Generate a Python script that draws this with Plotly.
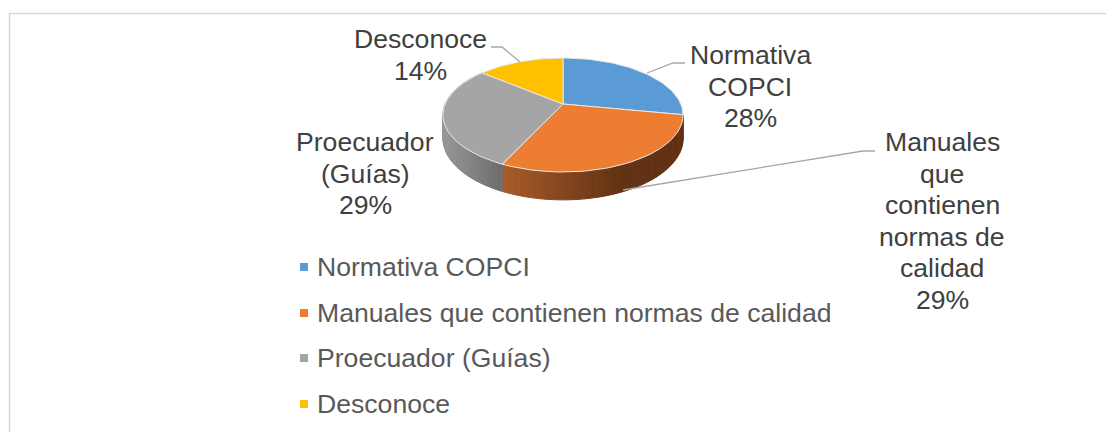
import math
import plotly.graph_objects as go

categories = ["Normativa COPCI", "Manuales que contienen normas de calidad", "Proecuador (Guías)", "Desconoce"]
values = [28, 29, 29, 14]
colors = ["#5B9BD5", "#ED7D31", "#A5A5A5", "#FFC000"]
label_lines = [["Normativa", "COPCI"], ["Manuales", "que", "contienen", "normas de", "calidad"], ["Proecuador", "(Guías)"], ["Desconoce"]]
label_x = [750, 942, 365, 420]
label_y = [55, 142, 142, 39]
LINE_H = 31.6
FONT = "Liberation Sans, Arial, sans-serif"
TEXT = "#404040"
LEG_TEXT = "#595959"
FS = 26.6

CX, CY, A, B, K = 563, 104, 117.8, -34.8, 0.193
DEPTH = 22.5


def project(deg, r=1.0, drop=0.0):
    t = math.radians(deg)
    u, v = r * math.sin(t), r * math.cos(t)
    den = 1 + K * v
    return CX + A * u / den, (CY + B * v) / den + drop * DEPTH / den


def lerp(c1, c2, f):
    return "rgb(%d,%d,%d)" % tuple(round(a + (b - a) * f) for a, b in zip(c1, c2))


total = sum(values)
edges = [0]
for v in values:
    edges.append(edges[-1] + 360 * v / total)

fig = go.Figure()


def poly(pts, fill, line=None, width=1):
    fig.add_trace(go.Scatter(x=[p[0] for p in pts], y=[p[1] for p in pts], mode="lines", fill="toself",
                             fillcolor=fill, line=dict(color=line or fill, width=width),
                             hoverinfo="skip", showlegend=False))


wall_ramps = {
    1: ((98, 50, 20), (168, 92, 40)),
    2: ((108, 108, 108), (150, 150, 150)),
}
# side walls
for idx, (c_dark, c_light) in wall_ramps.items():
    a0, a1 = edges[idx], edges[idx + 1]
    n = 40
    for i in range(n):
        d0 = a0 + (a1 - a0) * i / n
        d1 = a0 + (a1 - a0) * (i + 1) / n
        mid = (d0 + d1) / 2
        x_mid = project(mid)[0]
        if idx == 1:
            f = max(0, min(1, (620 - x_mid) / (620 - 503)))
        else:
            f = 1 - max(0, min(1, (x_mid - 445) / (503 - 445)))
        pts = [project(d0), project(d1), project(d1, drop=1), project(d0, drop=1), project(d0)]
        poly(pts, lerp(c_dark, c_light, f))

# top faces
for i, cat in enumerate(categories):
    a0, a1 = edges[i], edges[i + 1]
    n = max(8, int((a1 - a0) / 2))
    pts = [project(0, r=0)] + [project(a0 + (a1 - a0) * j / n) for j in range(n + 1)] + [project(0, r=0)]
    poly(pts, colors[i], line="#E8E8E8", width=1)

# leader lines
leaders = [
    ([647, 673, 685], [73, 63, 63]),
    ([623, 863, 875], [190, 151, 151]),
    ([491, 502, 520], [47, 47, 62]),
]
for lx, ly in leaders:
    fig.add_trace(go.Scatter(x=lx, y=ly, mode="lines", line=dict(color="#A6A6A6", width=1.3),
                             hoverinfo="skip", showlegend=False))

# legend rows
leg_y = [267, 313, 358, 404]
fig.add_trace(go.Scatter(x=[304] * 4, y=leg_y, mode="markers",
                         marker=dict(symbol="square", size=8, color=colors), hoverinfo="skip", showlegend=False))

ann = []
for cat, y in zip(categories, leg_y):
    ann.append(dict(x=315, y=y, text=cat, xanchor="left", yanchor="middle", showarrow=False,
                    font=dict(family=FONT, size=FS, color=LEG_TEXT)))
for lines, v, x, y in zip(label_lines, values, label_x, label_y):
    for j, s in enumerate(lines + [f"{v}%"]):
        ann.append(dict(x=x, y=y + j * LINE_H, text=s, xanchor="center", yanchor="middle", showarrow=False,
                        font=dict(family=FONT, size=FS, color=TEXT)))

border = dict(type="path", path="M 9.5 432 L 9.5 13.5 L 1106 13.5", line=dict(color="#D9D9D9", width=1.5))

fig.update_layout(
    width=1106, height=432, autosize=False, margin=dict(l=0, r=0, t=0, b=0),
    paper_bgcolor="white", plot_bgcolor="white", showlegend=False,
    xaxis=dict(range=[0, 1106], visible=False, fixedrange=True),
    yaxis=dict(range=[432, 0], visible=False, fixedrange=True),
    annotations=ann, shapes=[border],
)
fig.write_html("out.html", config={"displayModeBar": False},
               post_script="document.body.style.margin='0';document.body.style.overflow='hidden';")
